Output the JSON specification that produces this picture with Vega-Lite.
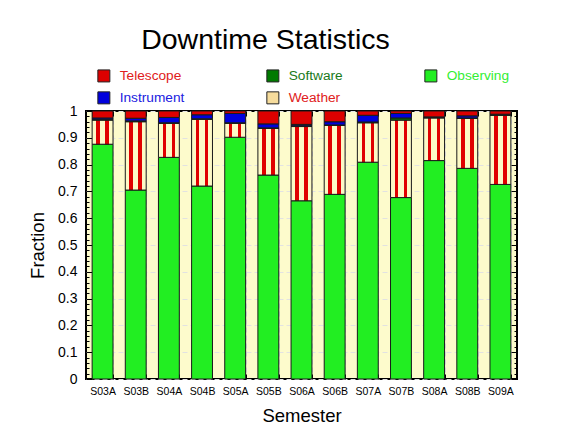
{
  "$schema": "https://vega.github.io/schema/vega-lite/v6.json",
  "width": 431,
  "height": 268,
  "autosize": {"type": "none"},
  "padding": {"left": 86, "top": 111, "right": 48, "bottom": 47},
  "background": "white",
  "config": {
    "font": "Liberation Sans",
    "view": {"stroke": "#000", "strokeWidth": 2, "fill": "#fdfbcc"},
    "axis": {"domain": false, "labelColor": "#000", "titleColor": "#000", "tickColor": "#000", "titleFontWeight": "normal", "labelFont": "Liberation Sans", "titleFont": "Liberation Sans"}
  },
  "title": {"text": "Downtime Statistics", "fontSize": 28.5, "fontWeight": "normal", "font": "Liberation Sans", "color": "#000", "anchor": "middle", "dx": -36, "offset": 15},
  "data": {"values": [
    {"semester": "S03A", "Observing": 0.876, "Weather": 0.090, "Software": 0.003, "Instrument": 0.005, "Telescope": 0.026},
    {"semester": "S03B", "Observing": 0.705, "Weather": 0.255, "Software": 0.003, "Instrument": 0.010, "Telescope": 0.027},
    {"semester": "S04A", "Observing": 0.827, "Weather": 0.127, "Software": 0.002, "Instrument": 0.020, "Telescope": 0.024},
    {"semester": "S04B", "Observing": 0.720, "Weather": 0.249, "Software": 0.002, "Instrument": 0.015, "Telescope": 0.014},
    {"semester": "S05A", "Observing": 0.902, "Weather": 0.052, "Software": 0.002, "Instrument": 0.035, "Telescope": 0.009},
    {"semester": "S05B", "Observing": 0.761, "Weather": 0.174, "Software": 0.002, "Instrument": 0.015, "Telescope": 0.048},
    {"semester": "S06A", "Observing": 0.665, "Weather": 0.277, "Software": 0.003, "Instrument": 0.005, "Telescope": 0.050},
    {"semester": "S06B", "Observing": 0.689, "Weather": 0.257, "Software": 0.002, "Instrument": 0.012, "Telescope": 0.040},
    {"semester": "S07A", "Observing": 0.809, "Weather": 0.147, "Software": 0.003, "Instrument": 0.025, "Telescope": 0.016},
    {"semester": "S07B", "Observing": 0.677, "Weather": 0.289, "Software": 0.008, "Instrument": 0.017, "Telescope": 0.009},
    {"semester": "S08A", "Observing": 0.815, "Weather": 0.159, "Software": 0.002, "Instrument": 0.002, "Telescope": 0.022},
    {"semester": "S08B", "Observing": 0.786, "Weather": 0.186, "Software": 0.002, "Instrument": 0.008, "Telescope": 0.018},
    {"semester": "S09A", "Observing": 0.726, "Weather": 0.258, "Software": 0.002, "Instrument": 0.002, "Telescope": 0.012}
  ]},
  "transform": [
    {"fold": ["Observing", "Weather", "Software", "Instrument", "Telescope"], "as": ["category", "fraction"]},
    {"calculate": "indexof(['Observing','Weather','Software','Instrument','Telescope'], datum.category)", "as": "stackOrder"}
  ],
  "layer": [
    {
      "mark": {"type": "bar", "stroke": "#1a1a1a", "strokeWidth": 1},
      "encoding": {
        "x": {
          "field": "semester", "type": "nominal", "sort": null,
          "scale": {"paddingInner": 0.37, "paddingOuter": 0.185},
          "axis": {
            "orient": "bottom", "title": "Semester", "titleFontSize": 18.5, "titlePadding": 10,
            "labelAngle": 0, "labelFontSize": 10.5, "labelPadding": 12,
            "tickBand": "extent", "tickSize": -5, "tickWidth": 1,
            "grid": true, "gridColor": "#dcdcdc", "gridDash": [5, 3], "gridWidth": 1
          }
        },
        "y": {
          "field": "fraction", "type": "quantitative", "stack": "zero",
          "scale": {"domain": [0, 1], "nice": false},
          "axis": {
            "orient": "left", "title": "Fraction", "titleFontSize": 18.5, "titlePadding": 10,
            "values": [0, 0.02, 0.04, 0.06, 0.08, 0.1, 0.12, 0.14, 0.16, 0.18, 0.2, 0.22, 0.24, 0.26, 0.28, 0.3, 0.32, 0.34, 0.36, 0.38, 0.4, 0.42, 0.44, 0.46, 0.48, 0.5, 0.52, 0.54, 0.56, 0.58, 0.6, 0.62, 0.64, 0.66, 0.68, 0.7, 0.72, 0.74, 0.76, 0.78, 0.8, 0.82, 0.84, 0.86, 0.88, 0.9, 0.92, 0.94, 0.96, 0.98, 1],
            "format": ".1~f",
            "labelExpr": "abs(datum.value*10 - round(datum.value*10)) < 0.001 ? datum.label : ''",
            "labelOverlap": false, "labelFontSize": 14, "labelPadding": 15,
            "tickSize": {"condition": {"test": "abs(datum.value*10 - round(datum.value*10)) < 0.001", "value": -6}, "value": -3},
            "tickWidth": 1,
            "grid": true, "gridColor": "#e2e2e2", "gridDash": [5, 3],
            "gridOpacity": {"condition": {"test": "abs(datum.value*10 - round(datum.value*10)) < 0.001", "value": 1}, "value": 0}
          }
        },
        "order": {"field": "stackOrder", "type": "quantitative"},
        "color": {
          "condition": {
            "test": "datum.category === 'Weather'",
            "value": {"gradient": "linear", "x1": 0, "y1": 0, "x2": 1, "y2": 0, "stops": [
              {"offset": 0, "color": "#fcf9c6"}, {"offset": 0.2, "color": "#fcf9c6"},
              {"offset": 0.2, "color": "#e00000"}, {"offset": 0.37, "color": "#e00000"},
              {"offset": 0.37, "color": "#fcf9c6"}, {"offset": 0.63, "color": "#fcf9c6"},
              {"offset": 0.63, "color": "#e00000"}, {"offset": 0.8, "color": "#e00000"},
              {"offset": 0.8, "color": "#fcf9c6"}, {"offset": 1, "color": "#fcf9c6"}
            ]}
          },
          "field": "category", "type": "nominal",
          "scale": {
            "domain": ["Telescope", "Instrument", "Software", "Weather", "Observing"],
            "range": ["#dd0000", "#0000dd", "#007a00", "#f6dc9c", "#22ee22"]
          },
          "legend": {
            "orient": "none", "legendX": 11, "legendY": -42, "columns": 3, "columnPadding": 79, "rowPadding": 5,
            "gridAlign": "each", "title": null, "padding": 0,
            "symbolType": "square", "symbolSize": 144, "symbolStrokeWidth": 1, "symbolStrokeColor": "#222", "symbolOpacity": 1,
            "labelFontSize": 13.7, "labelOffset": 9, "labelFont": "Liberation Sans",
            "encode": {
              "labels": {"update": {"fill": [{"test": "datum.value === 'Weather'", "value": "#e02020"}, {"test": "datum.value === 'Telescope'", "value": "#e02020"}, {"test": "datum.value === 'Instrument'", "value": "#2020e0"}, {"test": "datum.value === 'Software'", "value": "#1a7a1a"}, {"value": "#33ee33"}]}}
            }
          }
        }
      }
    },
    {
      "mark": {"type": "bar", "opacity": 0},
      "encoding": {
        "x": {
          "field": "semester", "type": "nominal", "sort": null,
          "axis": {"orient": "top", "title": null, "labels": false, "tickBand": "extent", "tickSize": -5, "tickWidth": 1, "grid": false}
        },
        "y": {
          "field": "fraction", "type": "quantitative", "stack": "zero",
          "axis": {
            "orient": "right", "title": null, "labels": false, "grid": false,
            "values": [0, 0.02, 0.04, 0.06, 0.08, 0.1, 0.12, 0.14, 0.16, 0.18, 0.2, 0.22, 0.24, 0.26, 0.28, 0.3, 0.32, 0.34, 0.36, 0.38, 0.4, 0.42, 0.44, 0.46, 0.48, 0.5, 0.52, 0.54, 0.56, 0.58, 0.6, 0.62, 0.64, 0.66, 0.68, 0.7, 0.72, 0.74, 0.76, 0.78, 0.8, 0.82, 0.84, 0.86, 0.88, 0.9, 0.92, 0.94, 0.96, 0.98, 1],
            "tickSize": {"condition": {"test": "abs(datum.value*10 - round(datum.value*10)) < 0.001", "value": -6}, "value": -3},
            "tickWidth": 1
          }
        }
      }
    }
  ],
  "resolve": {"axis": {"x": "independent", "y": "independent"}}
}
